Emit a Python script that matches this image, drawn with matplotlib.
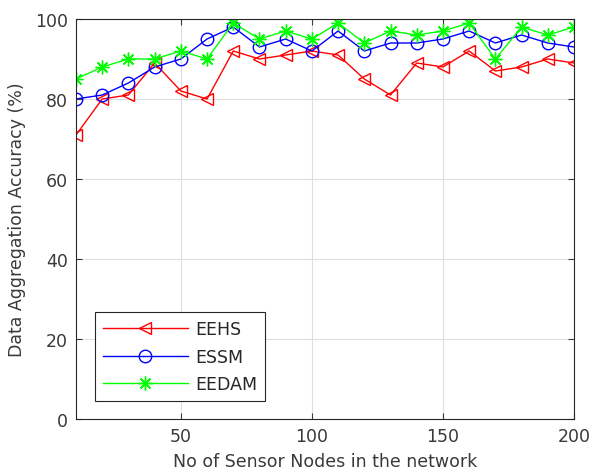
import numpy as np
import matplotlib
matplotlib.use('Agg')
import matplotlib.pyplot as plt

plt.rcParams['font.family'] = ['DejaVu Sans']

nodes = [10, 20, 30, 40, 50, 60, 70, 80, 90, 100,
         110, 120, 130, 140, 150, 160, 170, 180, 190, 200]
eehs = [71, 80, 81, 89, 82, 80, 92, 90, 91, 92,
        91, 85, 81, 89, 88, 92, 87, 88, 90, 89]
essm = [80, 81, 84, 88, 90, 95, 98, 93, 95, 92,
        97, 92, 94, 94, 95, 97, 94, 96, 94, 93]
eedam = [85, 88, 90, 90, 92, 90, 99, 95, 97, 95,
         99, 94, 97, 96, 97, 99, 90, 98, 96, 98]

fig = plt.figure(figsize=(6.03, 4.77), dpi=100)
ax = fig.add_axes([76 / 603, 57 / 477, 498 / 603, 400 / 477])

# asterisk marker: 8 arms, like a plus and a cross on top of each other
star = (8, 2, 0)

ax.plot(nodes, eehs, color='#ff0000', marker='<', markersize=9,
        markerfacecolor='none', linewidth=1, label='EEHS')
ax.plot(nodes, essm, color='#0000ff', marker='o', markersize=9,
        markerfacecolor='none', linewidth=1, label='ESSM')
ax.plot(nodes, eedam, color='#00ff00', marker=star, markersize=10,
        markeredgewidth=1, linewidth=1, label='EEDAM')

ax.set_xlim(10, 200)
ax.set_ylim(0, 100)
ax.set_xticks([50, 100, 150, 200])
ax.set_yticks([0, 20, 40, 60, 80, 100])
ax.grid(True, color='#dedede', linewidth=0.8)
ax.set_axisbelow(True)
ax.tick_params(direction='in', length=4, labelsize=12.5, colors='#3a3a3a',
               top=True, right=True, pad=6)
for s in ax.spines.values():
    s.set_color('#262626')
    s.set_linewidth(0.8)

ax.set_xlabel('No of Sensor Nodes in the network', fontsize=12.5,
              color='#3a3a3a', labelpad=5)
ax.set_ylabel('Data Aggregation Accuracy (%)', fontsize=12.5,
              color='#3a3a3a', labelpad=6)

leg = ax.legend(loc='lower left', bbox_to_anchor=(0.038, 0.045),
                borderaxespad=0, fontsize=12.5, fancybox=False,
                edgecolor='#262626', handlelength=4.9, handletextpad=0.4,
                borderpad=0.45, labelspacing=0.55, numpoints=1, framealpha=1)
leg.get_frame().set_linewidth(0.8)
for t in leg.get_texts():
    t.set_color('#262626')

fig.savefig('out.png', dpi=100)
